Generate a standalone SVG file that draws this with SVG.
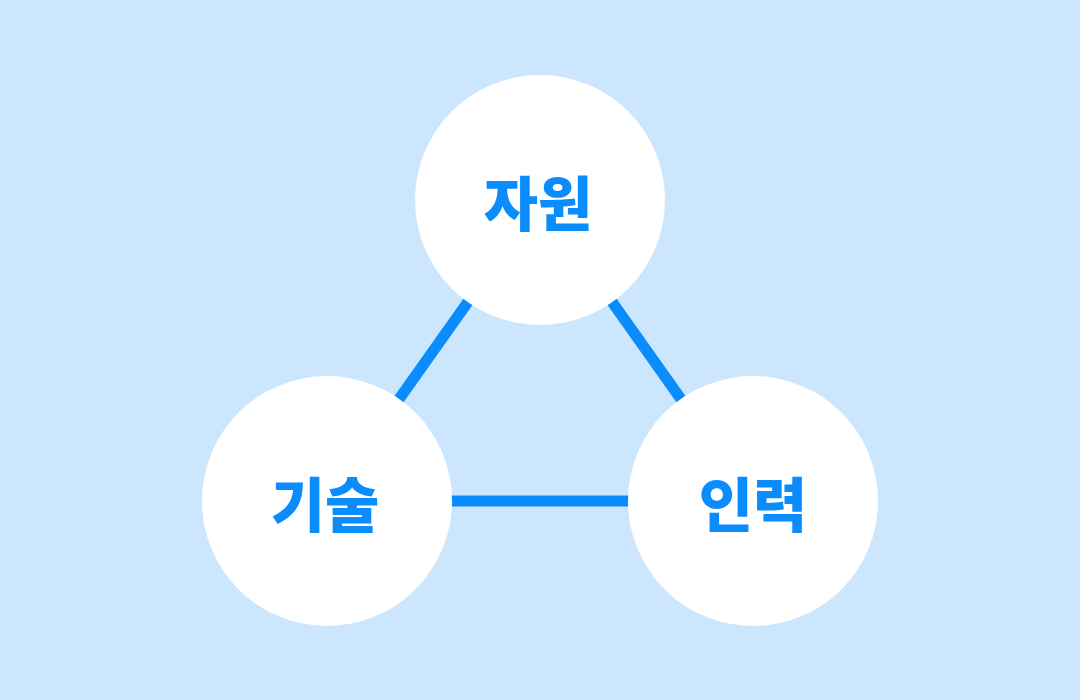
<svg xmlns="http://www.w3.org/2000/svg" width="1080" height="700" viewBox="0 0 1080 700">
<style>
.node{fill:#ffffff}
.lbl{font-family:"Noto Sans CJK KR","Noto Sans",sans-serif;font-weight:900;font-size:59px;fill:#0a8cfd;text-anchor:middle}
.edge{stroke:#0a8cfd;stroke-width:11;fill:none}
</style>
<rect width="1080" height="700" fill="#cce7fd"/>
<g id="connectors">
<line class="edge" x1="470" y1="299" x2="397" y2="402"/>
<line class="edge" x1="610" y1="299" x2="683" y2="402"/>
<line class="edge" x1="450" y1="501" x2="630" y2="501"/>
</g>
<g id="node-jawon">
<circle class="node" cx="540" cy="200" r="125"/>
<text class="lbl" x="538" y="226">자원</text>
</g>
<g id="node-gisul">
<circle class="node" cx="327" cy="501" r="125"/>
<text class="lbl" x="325" y="527">기술</text>
</g>
<g id="node-illyeok">
<circle class="node" cx="753" cy="501" r="125"/>
<text class="lbl" x="753" y="527">인력</text>
</g>
</svg>
